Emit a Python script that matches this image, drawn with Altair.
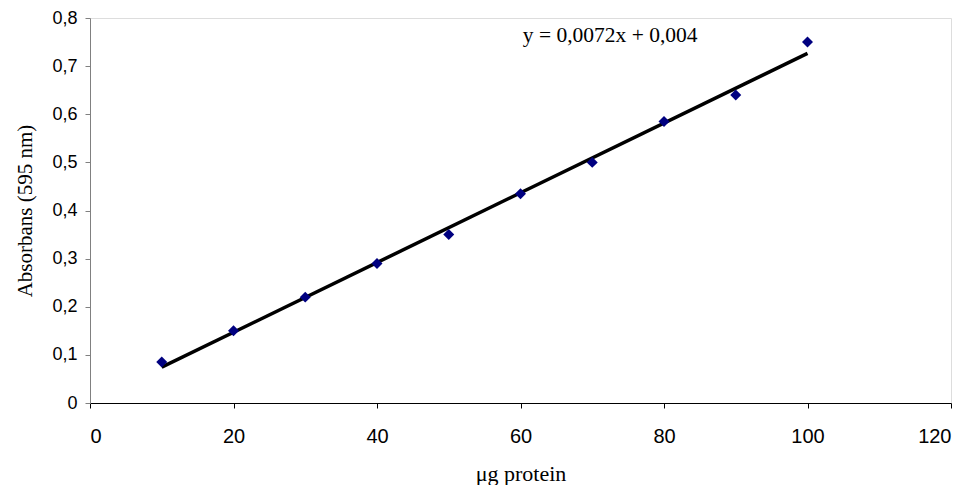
import altair as alt
import pandas as pd

protein = [10, 20, 30, 40, 50, 60, 70, 80, 90, 100]
absorbans = [0.085, 0.15, 0.22, 0.29, 0.35, 0.435, 0.5, 0.585, 0.64, 0.75]

eq_label = ["y = 0,0072x + 0,004"]
eq_x = [72.5]
eq_y = [0.762]

df = pd.DataFrame({"x": protein, "y": absorbans})
eq = pd.DataFrame({"x": eq_x, "y": eq_y, "t": eq_label})

xscale = alt.Scale(domain=[0, 120], nice=False, zero=True)
yscale = alt.Scale(domain=[0, 0.8], nice=False)

xaxis = alt.Axis(
    title="μg protein", values=[0, 20, 40, 60, 80, 100, 120], grid=False,
    domainColor="black", tickColor="black", tickSize=5, labelPadding=18,
    labelFont="Liberation Sans Narrow, Liberation Sans", labelFontSize=20, labelColor="black",
    titleFont="Liberation Serif", titleFontSize=22, titleFontWeight="normal",
    titleColor="black", titlePadding=17,
)
yaxis = alt.Axis(
    title="Absorbans (595 nm)", values=[0, 0.1, 0.2, 0.3, 0.4, 0.5, 0.6, 0.7, 0.8],
    grid=False, domainColor="#808080", tickColor="#808080", tickSize=5,
    labelPadding=8, labelFont="Liberation Sans", labelFontSize=18, labelColor="black",
    labelExpr="datum.value == 0 ? '0' : replace(format(datum.value, '.1f'), '.', ',')",
    titleFont="Liberation Serif", titleFontSize=21, titleFontWeight="normal",
    titleColor="black", titlePadding=16,
)

base = alt.Chart(df)

points = base.mark_point(shape="diamond", filled=True, color="#000080", size=120, opacity=1).encode(
    x=alt.X("x:Q", scale=xscale, axis=xaxis),
    y=alt.Y("y:Q", scale=yscale, axis=yaxis),
)

trend = base.transform_regression("x", "y").mark_line(color="black", strokeWidth=3.5).encode(
    x=alt.X("x:Q", scale=xscale),
    y=alt.Y("y:Q", scale=yscale),
)

text = alt.Chart(eq).mark_text(font="Liberation Serif", fontSize=21.5, color="black", align="center", baseline="middle").encode(
    x=alt.X("x:Q", scale=xscale),
    y=alt.Y("y:Q", scale=yscale),
    text="t:N",
)

chart = alt.layer(trend, points, text).properties(
    width=861, height=385,
    autosize=alt.AutoSizeParams(type="none"),
    padding={"left": 82, "top": 10, "right": 15, "bottom": 82},
).configure_view(stroke=None).configure(background="white")

chart.save("out.html", embed_options={"renderer": "svg", "actions": False})
